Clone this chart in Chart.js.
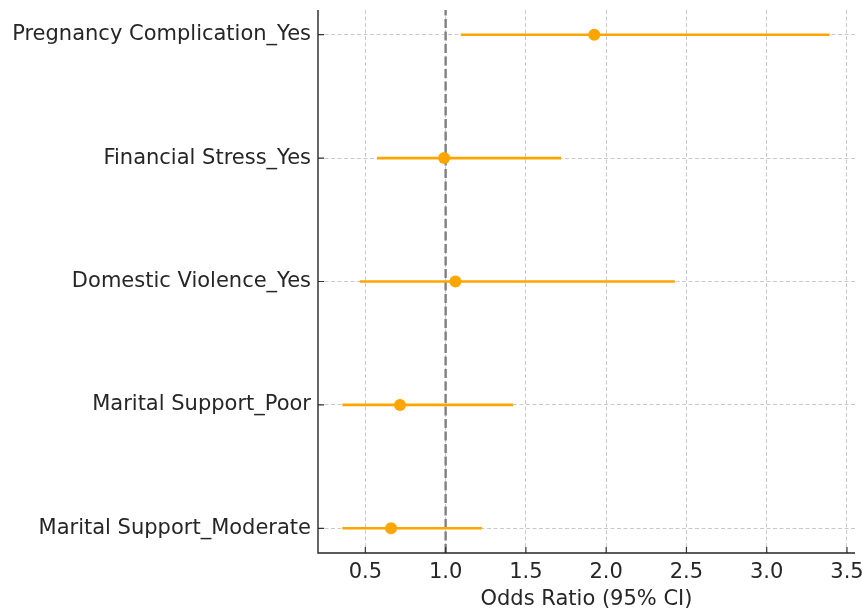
<!DOCTYPE html>
<html>
<head>
<meta charset="utf-8">
<script src="https://cdn.jsdelivr.net/npm/chart.js@4.4.0/dist/chart.umd.min.js"></script>
<style>
html,body{margin:0;padding:0;background:#fff;}
#wrap{width:863px;height:612px;position:relative;}
</style>
</head>
<body>
<div id="wrap"><canvas id="c" width="863" height="612"></canvas></div>
<script>
// Data (bottom to top order, as in the picture from bottom)
const categories = ["Marital Support_Moderate", "Marital Support_Poor", "Domestic Violence_Yes", "Financial Stress_Yes", "Pregnancy Complication_Yes"];
const oddsRatio = [0.66, 0.716, 1.061, 0.991, 1.926];
const ciLower = [0.357, 0.357, 0.465, 0.573, 1.094];
const ciUpper = [1.226, 1.42, 2.428, 1.719, 3.392];
const xTicks = [0.5, 1.0, 1.5, 2.0, 2.5, 3.0, 3.5];
const referenceOR = 1;

const ORANGE = '#FFA500';
const FONT = "'DejaVu Sans', sans-serif";
const FSIZE = 21;

const datasets = [];
// reference line at OR = 1
datasets.push({
  type: 'line',
  data: [{x: referenceOR, y: -0.2}, {x: referenceOR, y: categories.length - 1 + 0.2}],
  borderColor: '#808080',
  borderWidth: 2.4,
  borderDash: [9, 3.5],
  pointRadius: 0,
  showLine: true,
  order: 3
});
// confidence intervals
categories.forEach((c, i) => {
  datasets.push({
    type: 'line',
    data: [{x: ciLower[i], y: i}, {x: ciUpper[i], y: i}],
    borderColor: ORANGE,
    borderWidth: 2.6,
    pointRadius: 0,
    showLine: true,
    order: 2
  });
});
// point estimates
datasets.push({
  type: 'scatter',
  data: oddsRatio.map((v, i) => ({x: v, y: i})),
  backgroundColor: ORANGE,
  borderColor: ORANGE,
  pointRadius: 6,
  borderWidth: 0,
  order: 1
});

const innerTicks = {
  id: 'innerTicks',
  afterDatasetsDraw(chart) {
    const ctx = chart.ctx, a = chart.chartArea;
    const xs = chart.scales.x, ys = chart.scales.y;
    ctx.save();
    ctx.strokeStyle = '#333';
    ctx.lineWidth = 1.2;
    ctx.beginPath();
    xTicks.forEach(t => { const px = xs.getPixelForValue(t); ctx.moveTo(px, a.bottom); ctx.lineTo(px, a.bottom - 6); });
    categories.forEach((c, i) => { const py = ys.getPixelForValue(i); ctx.moveTo(a.left, py); ctx.lineTo(a.left + 6, py); });
    ctx.stroke();
    // spines
    ctx.strokeStyle = '#262626';
    ctx.lineWidth = 1.4;
    ctx.beginPath();
    ctx.moveTo(a.left, a.top); ctx.lineTo(a.left, a.bottom); ctx.lineTo(a.right, a.bottom);
    ctx.stroke();
    ctx.restore();
  }
};

new Chart(document.getElementById('c'), {
  type: 'scatter',
  data: { datasets },
  options: {
    responsive: false,
    animation: false,
    layout: { padding: { left: 0, right: 8, top: 10, bottom: 0 } },
    plugins: { legend: { display: false }, tooltip: { enabled: false } },
    scales: {
      x: {
        type: 'linear',
        min: 0.205, max: 3.55,
        afterBuildTicks(s) { s.ticks = xTicks.map(v => ({value: v})); },
        afterFit(s) { s.height = 59; s.paddingLeft = 0; s.paddingRight = 0; },
        border: { display: false, dash: [4, 2.5] },
        grid: { color: '#cacaca', lineWidth: 1, drawTicks: false },
        ticks: { color: '#262626', font: { family: FONT, size: FSIZE }, padding: 7,
          callback: v => Number(v).toFixed(1), maxRotation: 0 },
        title: { display: true, text: 'Odds Ratio (95% CI)', color: '#262626', font: { family: FONT, size: FSIZE }, padding: { top: 0, bottom: 0 } }
      },
      y: {
        type: 'linear',
        min: -0.2, max: categories.length - 1 + 0.2,
        afterBuildTicks(s) { s.ticks = categories.map((c, i) => ({value: i})); },
        afterFit(s) { s.width = 318; s.paddingTop = 0; s.paddingBottom = 0; },
        border: { display: false, dash: [4, 2.5] },
        grid: { color: '#cacaca', lineWidth: 1, drawTicks: false },
        ticks: { color: '#262626', font: { family: FONT, size: FSIZE }, padding: 7,
          callback: (v) => categories[Math.round(v)] }
      }
    }
  },
  plugins: [innerTicks]
});
</script>
</body>
</html>
